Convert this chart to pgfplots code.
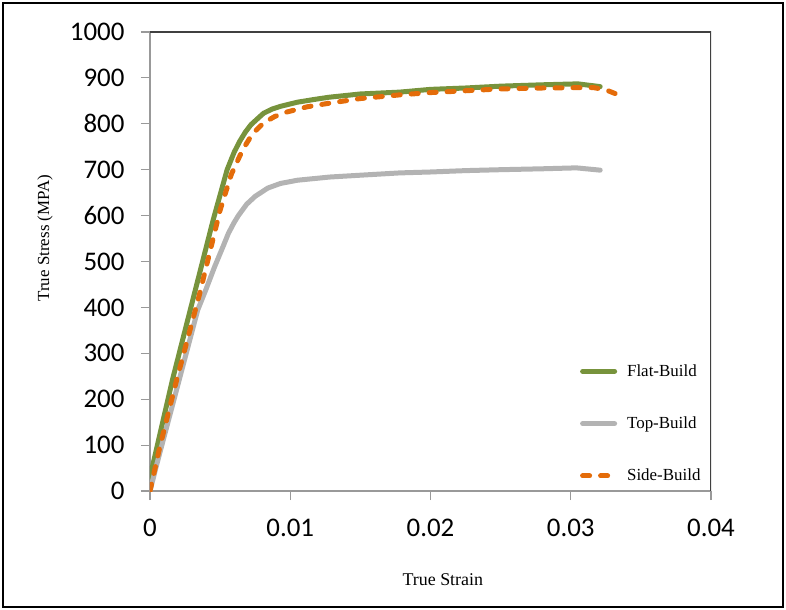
\documentclass[border=0pt]{standalone}
\usepackage{fontspec}
\setmainfont{Liberation Serif}
\newfontfamily\carlito{Carlito}
\usepackage{pgfplots}
\pgfplotsset{compat=1.18}
\definecolor{flatg}{HTML}{77933C}
\definecolor{topg}{HTML}{B3B3B3}
\definecolor{sideo}{HTML}{E46C0A}
\begin{document}
\begin{tikzpicture}
\useasboundingbox (-150bp,-119bp) rectangle (636bp,491bp);
\draw[black, line width=2bp] (-147bp,-116bp) rectangle (633bp,488bp);
\begin{axis}[
  at={(0,0)}, anchor=south west,
  scale only axis, width=561bp, height=459bp,
  xmin=0, xmax=0.04, ymin=0, ymax=1000,
  axis x line*=bottom, axis y line*=left,
  axis line style={color=black!40, line width=1.2bp, -},
  xtick={0,0.01,0.02,0.03,0.04},
  ytick={0,100,...,1000},
  scaled x ticks=false,
  tick align=outside,
  major tick length=9bp,
  tick style={color=black!40, line width=1.2bp},
  ticklabel style={font=\carlito\fontsize{27}{29}\selectfont, text=black},
  /pgf/number format/assume math mode=true,
  xticklabel style={/pgf/number format/fixed, /pgf/number format/precision=2, yshift=-16bp},
  yticklabel style={xshift=-13bp, /pgf/number format/1000 sep={}},
  xlabel={True Strain},
  ylabel={True Stress (MPA)},
  xlabel style={font=\fontsize{18}{20}\selectfont, at={(axis description cs:0.522,-0.194)}, anchor=center},
  ylabel style={font=\fontsize{17}{19}\selectfont, at={(axis description cs:-0.187,0.551)}, anchor=center, rotate=0},
  legend style={draw=none, fill=none, at={(rel axis cs:0.761,0.282)}, anchor=north west,
    font=\fontsize{17}{19}\selectfont, row sep=37bp, column sep=9bp,
    nodes={inner sep=1bp}},
  legend cell align=left,
  legend image code/.code={\draw[#1] (0bp,0bp) -- (32bp,0bp);},
  every axis plot/.append style={line width=5bp, line join=round},
]
\draw[black!75, line width=1.5bp] (rel axis cs:0,1) -- (rel axis cs:1,1) -- (rel axis cs:1,0);
\addplot[flatg, line cap=round] coordinates {
(0,30) (0.0016,242) (0.0030,410) (0.0045,590) (0.0055,700) (0.0060,738) (0.0064,762)
(0.0068,782) (0.0072,798) (0.0077,812) (0.0081,823) (0.0087,832) (0.0093,838)
(0.0105,847) (0.0117,853) (0.0128,858) (0.0150,865) (0.0178,869) (0.0200,875)
(0.0225,878) (0.0250,882) (0.0280,885) (0.0305,887) (0.0321,881)};
\addlegendentry{Flat-Build}
\addplot[topg, line cap=round] coordinates {
(0,0) (0.0005,60) (0.0017,198) (0.0034,394) (0.0040,440) (0.0046,488) (0.0052,532)
(0.0056,562) (0.0060,585) (0.0063,600) (0.0069,625) (0.0075,642) (0.0084,660)
(0.0093,670) (0.0105,677) (0.0128,684) (0.0150,688) (0.0178,693) (0.0200,695)
(0.0225,698) (0.0250,700) (0.0280,702) (0.0304,704) (0.0321,699)};
\addlegendentry{Top-Build}
\addplot[sideo, line cap=round, dash pattern=on 7bp off 11bp] coordinates {
(0,0) (0.0007,96) (0.0019,242) (0.0035,425) (0.0050,612) (0.0058,690) (0.0066,743)
(0.0073,778) (0.0081,802) (0.0089,816) (0.0098,826) (0.0112,837) (0.0128,845)
(0.0150,855) (0.0178,863) (0.0200,868) (0.0225,872) (0.0250,876) (0.0280,878)
(0.0316,879) (0.0325,874) (0.0334,863)};
\addlegendentry{Side-Build}
\end{axis}
\end{tikzpicture}
\end{document}
